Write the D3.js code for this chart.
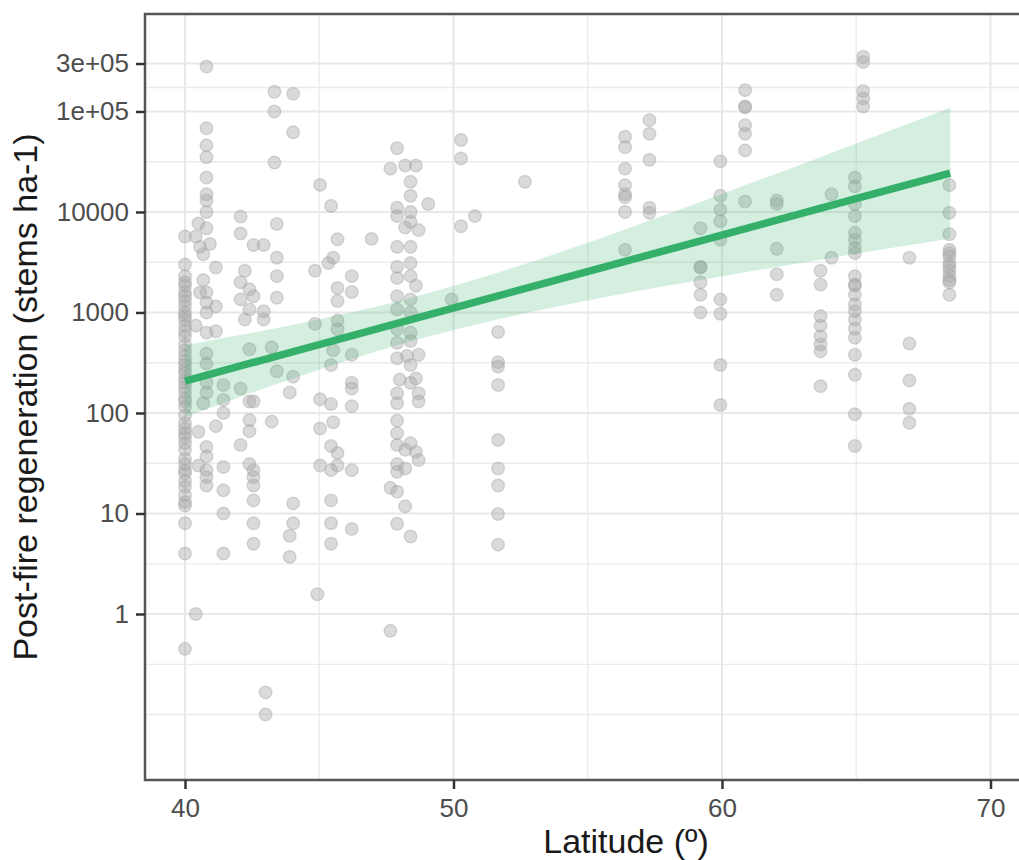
<!DOCTYPE html>
<html>
<head>
<meta charset="utf-8">
<script src="https://cdn.jsdelivr.net/npm/d3@7"></script>
<style>
  body { margin: 0; background: #fff; overflow: hidden; }
  svg { display: block; font-family: "Liberation Sans", Arial, sans-serif; }
</style>
</head>
<body>
<div id="chart"></div>
<script>
// sites: latitude and the post-fire regeneration values measured there
const siteLat = [40.0, 40.4, 40.5, 40.56, 40.68, 40.8, 40.93, 41.15, 41.43, 42.07, 42.23, 42.4, 42.55, 42.93, 43.0,
  43.23, 43.33, 43.42, 43.9, 44.03, 44.84, 44.93, 45.03, 45.34, 45.44, 45.52, 45.68, 46.21, 46.95, 47.65, 47.9,
  48.0, 48.2, 48.27, 48.4, 48.6, 48.7, 49.06, 49.93, 50.28, 50.8, 51.66, 52.66, 56.39, 57.3, 59.2, 59.94, 60.86,
  62.04, 63.67, 64.08, 64.95, 65.26, 66.98, 68.47];

const siteRegen = [
  [5700, 3000, 2300, 2000, 1850, 1600, 1450, 1300, 1150, 1000, 920, 850, 740, 650, 580, 480, 420, 370, 330, 300,
    270, 250, 220, 200, 180, 160, 140, 130, 115, 95, 79, 70, 63, 57, 50, 43, 35, 31, 27, 25, 21, 18.5, 15.3, 13, 12, 8, 4, 0.45],
  [5700, 740, 1],
  [7700, 65, 30],
  [4500, 1580],
  [3800, 2100, 125],
  [280000, 68000, 46000, 35000, 22000, 15000, 13000, 10000, 6900, 1580, 1250, 1000, 630, 390, 310, 200, 160, 46, 37, 27, 23, 19],
  [4800],
  [2800, 1150, 650, 74],
  [190, 135, 100, 29, 17, 10, 4],
  [9000, 6100, 2000, 1350, 175, 48],
  [2600, 850],
  [1700, 1070, 430, 130, 85, 66, 31],
  [4700, 1450, 130, 27, 23, 19, 13.5, 8, 5],
  [4700, 1030, 850],
  [0.166, 0.1],
  [450, 82],
  [157000, 100000, 31000],
  [7600, 3500, 2300, 1400, 260],
  [160, 6, 3.7],
  [150000, 62000, 230, 12.6, 8],
  [2600, 770],
  [1.57],
  [18600, 137, 70, 30],
  [3100],
  [11500, 300, 123, 47, 27, 13.5, 8, 5],
  [3500, 420, 81],
  [5350, 1750, 1300, 830, 680, 40, 30],
  [2300, 1600, 380, 200, 175, 117, 27, 7],
  [5400],
  [27000, 18, 0.68],
  [43000, 11000, 9100, 4500, 2850, 2200, 1450, 1070, 680, 500, 350, 157, 125, 84, 63, 48, 31, 26, 16.5, 7.9],
  [215],
  [29000, 7000, 43, 28, 11.8],
  [370],
  [20000, 14500, 10000, 8000, 4500, 3100, 2300, 1350, 1000, 630, 520, 300, 200, 50, 5.9],
  [29000, 1850, 220, 41],
  [6600, 380, 157, 130, 34],
  [12000],
  [1350],
  [52000, 34000, 7200],
  [9100],
  [640, 320, 290, 190, 54, 28, 19, 9.9, 4.9],
  [20000],
  [56000, 44000, 27000, 18500, 15000, 14000, 10000, 4200],
  [82000, 60000, 33000, 11000, 9800],
  [6900, 2850, 2800, 2000, 1500, 1000],
  [32000, 14500, 10500, 8100, 5300, 1350, 970, 300, 120],
  [163000, 112000, 110000, 73000, 60000, 41000, 12700],
  [13000, 12000, 4300, 2400, 1500],
  [2600, 1900, 920, 740, 580, 480, 410, 185],
  [15000, 3500],
  [22000, 18000, 12000, 9100, 6200, 5300, 4400, 3900, 2300, 1900, 1850, 1500, 1200, 1030, 850, 690, 560, 380, 240, 97, 47],
  [350000, 310000, 160000, 135000, 112000],
  [3500, 490, 210, 110, 80],
  [18500, 9800, 6000, 4200, 3900, 3600, 3100, 2850, 2600, 2300, 2100, 2000, 1500]
];

// fitted trend and its confidence band
const fitLat = [40, 68.5];
const fitRegen = [208, 24400];
const bandLat = [40, 42, 44, 46, 48, 50, 52, 54, 56, 58, 60, 62, 64, 66, 68.5];
const bandLow = [91, 143, 219, 330, 479, 669, 897, 1164, 1483, 1853, 2296, 2826, 3470, 4246, 5430];
const bandHigh = [473, 592, 752, 977, 1312, 1832, 2661, 4000, 6150, 9590, 15100, 23900, 38000, 60800, 109000];

const xTicks = [40, 50, 60, 70];
const xMinor = [45, 55, 65];
const yTicks = [1, 10, 100, 1000, 10000, 100000, 300000];
const yTickLabels = ["1", "10", "100", "1000", "10000", "1e+05", "3e+05"];
const yMinor = [0.1, 0.316, 3.16, 31.6, 316, 3162, 31623, 173205];

const width = 1019, height = 860;
// the panel runs past the right edge of the picture (cropped figure)
const pLeft = 145, pTop = 14, pBottom = 780, pRight = 1040;

const points = siteLat.flatMap((lat, i) => siteRegen[i].map(v => ({ lat, v })));
const band = bandLat.map((lat, i) => ({ lat, lo: bandLow[i], hi: bandHigh[i] }));
const fit = fitLat.map((lat, i) => ({ lat, v: fitRegen[i] }));

const x = d3.scaleLinear().domain([38.51, 71.844]).range([pLeft, pRight]);
const y = d3.scaleLog().domain([0.0223, 933000]).range([pBottom, pTop]);

const svg = d3.select("#chart").append("svg")
  .attr("width", width)
  .attr("height", height);

svg.append("defs").append("clipPath").attr("id", "panel")
  .append("rect").attr("x", pLeft).attr("y", pTop)
  .attr("width", pRight - pLeft).attr("height", pBottom - pTop);

const plot = svg.append("g").attr("clip-path", "url(#panel)");

// grid
plot.selectAll(".ymin").data(yMinor).join("line")
  .attr("x1", pLeft).attr("x2", pRight)
  .attr("y1", d => y(d)).attr("y2", d => y(d))
  .attr("stroke", "#ebebeb").attr("stroke-width", 1.3);
plot.selectAll(".xmin").data(xMinor).join("line")
  .attr("y1", pTop).attr("y2", pBottom)
  .attr("x1", d => x(d)).attr("x2", d => x(d))
  .attr("stroke", "#ebebeb").attr("stroke-width", 1.3);
plot.selectAll(".ymaj").data(yTicks).join("line")
  .attr("x1", pLeft).attr("x2", pRight)
  .attr("y1", d => y(d)).attr("y2", d => y(d))
  .attr("stroke", "#e8e8e8").attr("stroke-width", 2);
plot.selectAll(".xmaj").data(xTicks).join("line")
  .attr("y1", pTop).attr("y2", pBottom)
  .attr("x1", d => x(d)).attr("x2", d => x(d))
  .attr("stroke", "#e8e8e8").attr("stroke-width", 2);

// points
plot.append("g").selectAll("circle").data(points).join("circle")
  .attr("cx", d => x(d.lat))
  .attr("cy", d => y(d.v))
  .attr("r", 6.3)
  .attr("fill", "#a8a8a8").attr("fill-opacity", 0.42)
  .attr("stroke", "#a8a8a8").attr("stroke-opacity", 0.42)
  .attr("stroke-width", 1.4);

// confidence band + fit
plot.append("path").datum(band)
  .attr("d", d3.area().x(d => x(d.lat)).y0(d => y(d.lo)).y1(d => y(d.hi)).curve(d3.curveMonotoneX))
  .attr("fill", "#3cb371").attr("fill-opacity", 0.22);

plot.append("path").datum(fit)
  .attr("d", d3.line().x(d => x(d.lat)).y(d => y(d.v)))
  .attr("fill", "none")
  .attr("stroke", "#34b06b")
  .attr("stroke-width", 7.5);

// border
svg.append("rect")
  .attr("x", pLeft).attr("y", pTop)
  .attr("width", pRight - pLeft).attr("height", pBottom - pTop)
  .attr("fill", "none").attr("stroke", "#555").attr("stroke-width", 2.5);

// axes
const yAxis = svg.append("g").attr("transform", `translate(${pLeft},0)`)
  .call(d3.axisLeft(y).tickValues(yTicks).tickFormat((d, i) => yTickLabels[i]).tickSize(9).tickPadding(7));
const xAxis = svg.append("g").attr("transform", `translate(0,${pBottom})`)
  .call(d3.axisBottom(x).tickValues(xTicks).tickFormat(d3.format("d")).tickSize(9).tickPadding(10));

[yAxis, xAxis].forEach(a => {
  a.select(".domain").remove();
  a.selectAll(".tick line").attr("stroke", "#333").attr("stroke-width", 2.5);
  a.selectAll(".tick text")
    .attr("fill", "#4d4d4d")
    .style("font-size", "26px")
    .style("font-family", "'Liberation Sans', Arial, sans-serif");
});

// titles
svg.append("text")
  .attr("x", 626).attr("y", 853)
  .attr("text-anchor", "middle")
  .attr("fill", "#1a1a1a")
  .style("font-size", "34px")
  .text("Latitude (º)");

svg.append("text")
  .attr("transform", `translate(37,${(pTop + pBottom) / 2}) rotate(-90)`)
  .attr("text-anchor", "middle")
  .attr("fill", "#1a1a1a")
  .style("font-size", "34px")
  .text("Post-fire regeneration (stems ha-1)");
</script>
</body>
</html>
